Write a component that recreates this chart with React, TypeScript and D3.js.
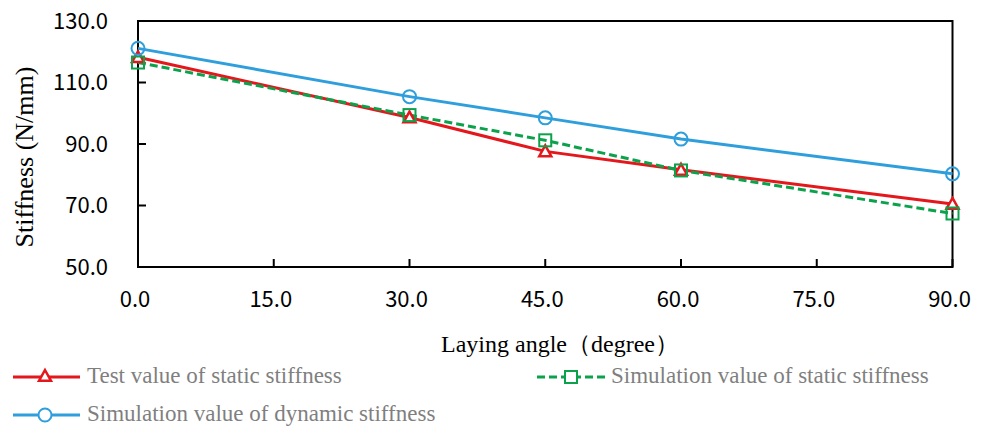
import React from "react";
import * as d3 from "d3";

const angles = [0, 30, 45, 60, 90];
const testStatic = [118.2, 98.6, 87.6, 81.6, 70.5];
const simStatic = [116.5, 99.4, 91.2, 81.4, 67.4];
const simDynamic = [121.1, 105.4, 98.5, 91.6, 80.3];
const xTicks = [0, 15, 30, 45, 60, 75, 90];
const yTicks = [50, 70, 90, 110, 130];
const legendLabels = [
  "Test value of static stiffness",
  "Simulation value of static stiffness",
  "Simulation value of dynamic stiffness",
];
const xTitle = "Laying angle（degree）";
const yTitle = "Stiffness (N/mm)";

const RED = "#e3171c";
const GREEN = "#0ca24c";
const BLUE = "#2e9fdc";

export default function App() {
  const W = 982, H = 428;
  const x = d3.scaleLinear().domain([0, 90]).range([138, 952.5]);
  const y = d3.scaleLinear().domain([50, 130]).range([267, 21]);
  const line = d3.line<number>().x((_, i) => x(angles[i])).y((v) => y(v));
  const tickFont = "'Noto Sans CJK SC', 'Noto Sans', sans-serif";
  const serif = "'Liberation Serif', 'Times New Roman', serif";

  const tri = (cx: number, cy: number, s = 6) =>
    `M${cx},${cy - s} L${cx + s},${cy + s * 0.8} L${cx - s},${cy + s * 0.8} Z`;

  return (
    <svg width={W} height={H} style={{ position: "absolute", left: 0, top: 0, background: "#fff" }}>
      {/* frame */}
      <rect x={x(0)} y={y(130)} width={x(90) - x(0)} height={y(50) - y(130)} fill="none" stroke="#000" strokeWidth={2} />
      {yTicks.map((t) => (
        <g key={"y" + t}>
          <line x1={x(0)} x2={x(0) + 8} y1={y(t)} y2={y(t)} stroke="#000" strokeWidth={2} />
          <text x={x(0) - 30} y={y(t)} dy="0.36em" textAnchor="end" fontFamily={tickFont} fontSize={22} fill="#000">
            {t.toFixed(1)}
          </text>
        </g>
      ))}
      {xTicks.map((t) => (
        <g key={"x" + t}>
          <line x1={x(t)} x2={x(t)} y1={y(50)} y2={y(50) - 8} stroke="#000" strokeWidth={2} />
          <text x={x(t) - 3} y={307} textAnchor="middle" fontFamily={tickFont} fontSize={22} fill="#000">
            {t.toFixed(1)}
          </text>
        </g>
      ))}
      <text x={560} y={352} textAnchor="middle" fontFamily={serif} fontSize={24} fill="#000">{xTitle}</text>
      <text transform={`translate(33,157) rotate(-90)`} textAnchor="middle" fontFamily={serif} fontSize={26} fill="#000">
        {yTitle}
      </text>

      {/* series */}
      <path d={line(testStatic) || ""} fill="none" stroke={RED} strokeWidth={3} />
      <path d={line(simStatic) || ""} fill="none" stroke={GREEN} strokeWidth={3} strokeDasharray="8,4" />
      <path d={line(simDynamic) || ""} fill="none" stroke={BLUE} strokeWidth={3} />
      {angles.map((a, i) => (
        <g key={"m" + a}>
          <path d={tri(x(a), y(testStatic[i]))} fill="#fff" stroke={RED} strokeWidth={2.5} />
          <rect x={x(a) - 6} y={y(simStatic[i]) - 6} width={12} height={12} fill="none" stroke={GREEN} strokeWidth={2} />
          <circle cx={x(a)} cy={y(simDynamic[i])} r={6.5} fill="none" stroke={BLUE} strokeWidth={2} />
        </g>
      ))}

      {/* legend */}
      <g>
        <line x1={13} x2={80} y1={377} y2={377} stroke={RED} strokeWidth={3} />
        <path d={tri(45, 376)} fill="#fff" stroke={RED} strokeWidth={2.5} />
        <text x={87} y={383} fontFamily={serif} fontSize={23} fill="#7f7f7f">{legendLabels[0]}</text>

        <line x1={537} x2={605} y1={377} y2={377} stroke={GREEN} strokeWidth={3} strokeDasharray="8,4" />
        <rect x={565} y={371} width={12} height={12} fill="#fff" stroke={GREEN} strokeWidth={2} />
        <text x={611} y={383} fontFamily={serif} fontSize={23} fill="#7f7f7f">{legendLabels[1]}</text>

        <line x1={13} x2={80} y1={415} y2={415} stroke={BLUE} strokeWidth={3} />
        <circle cx={45} cy={415} r={6.5} fill="#fff" stroke={BLUE} strokeWidth={2} />
        <text x={87} y={421} fontFamily={serif} fontSize={23} fill="#7f7f7f">{legendLabels[2]}</text>
      </g>
    </svg>
  );
}
